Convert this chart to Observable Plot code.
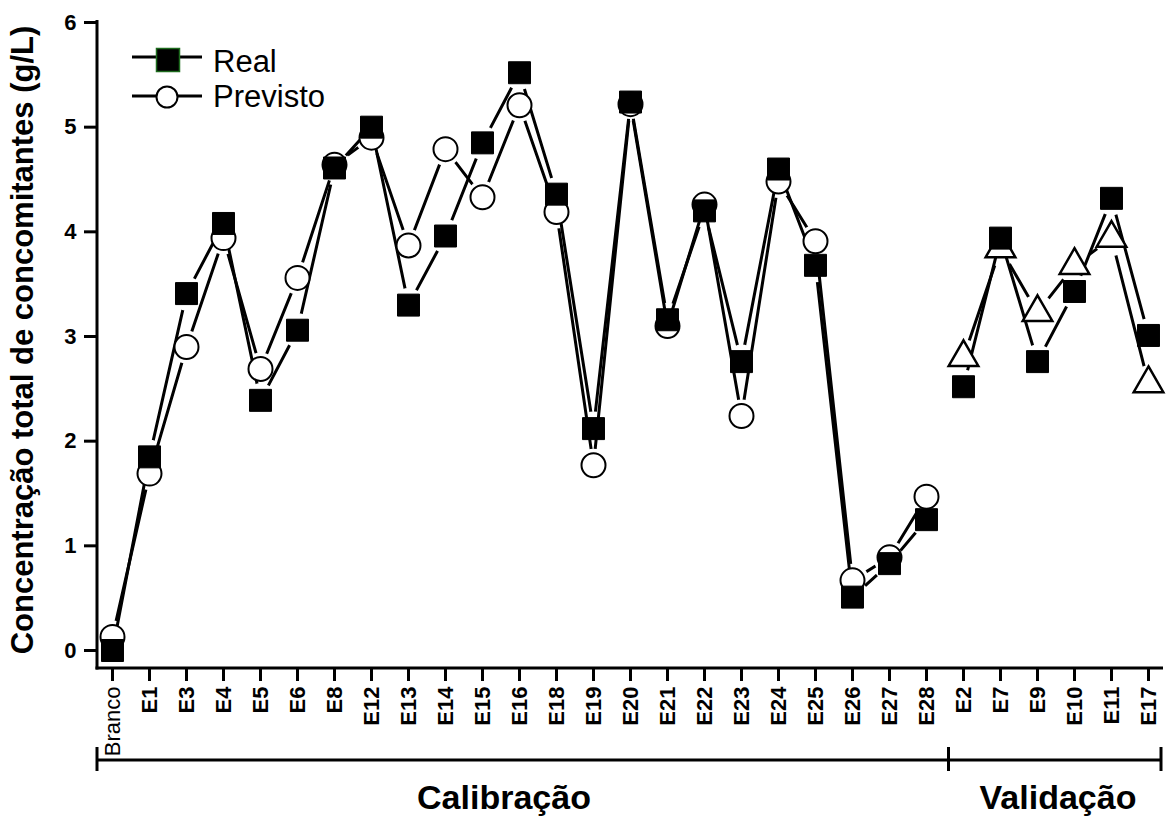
<!DOCTYPE html>
<html>
<head>
<meta charset="utf-8">
<script src="https://cdn.jsdelivr.net/npm/d3@7"></script>
<script src="https://cdn.jsdelivr.net/npm/@observablehq/plot@0.6"></script>
<style>
  html, body { margin: 0; padding: 0; background: #fff; }
  #chart svg { display: block; }
</style>
</head>
<body>
<div id="chart"></div>
<script>
// ---------- data ----------
const calCategories = ["Branco","E1","E3","E4","E5","E6","E8","E12","E13","E14","E15","E16","E18","E19","E20","E21","E22","E23","E24","E25","E26","E27","E28"];
const valCategories = ["E2","E7","E9","E10","E11","E17"];
const realCal = [0.00,1.85,3.41,4.08,2.39,3.06,4.61,5.00,3.30,3.96,4.85,5.52,4.36,2.12,5.24,3.16,4.20,2.76,4.60,3.68,0.51,0.83,1.25];
const prevCal = [0.13,1.69,2.90,3.94,2.69,3.56,4.64,4.90,3.87,4.79,4.33,5.21,4.19,1.77,5.22,3.10,4.26,2.24,4.48,3.91,0.67,0.89,1.47];
const realVal = [2.52,3.94,2.76,3.43,4.32,3.01];
const prevVal = [2.80,3.84,3.23,3.68,3.94,2.55];
const yTicks = [0,1,2,3,4,5,6];
const groupLabels = ["Calibração","Validação"];
const yTitle = "Concentração total de concomitantes (g/L)";
const legendLabels = ["Real","Previsto"];

// ---------- tables ----------
const cal = calCategories.map((c, i) => ({cat: c, real: realCal[i], prev: prevCal[i]}));
const val = valCategories.map((c, i) => ({cat: c, real: realVal[i], prev: prevVal[i]}));
const allCats = calCategories.concat(valCategories);

const W = 1168, H = 817;
const FONT = "'Liberation Sans', Arial, Helvetica, sans-serif";

const plot = Plot.plot({
  width: W,
  height: H,
  marginLeft: 97,
  marginRight: 5,
  marginTop: 22,
  marginBottom: 149,
  style: {fontFamily: FONT, background: "white", color: "black", overflow: "visible"},
  x: {type: "point", domain: allCats, padding: 0.405},
  y: {domain: [-0.172, 6]},
  marks: [
    Plot.axisX({tickRotate: -90, tickSize: 13, tickPadding: 5, fontSize: 22, fontWeight: "bold", strokeWidth: 3, label: null}),
    Plot.axisY(yTicks, {tickSize: 13, tickPadding: 8, fontSize: 22, fontWeight: "bold", strokeWidth: 3, label: null, tickFormat: d3.format("d")}),
    Plot.line(cal, {x: "cat", y: "real", stroke: "black", strokeWidth: 3}),
    Plot.line(cal, {x: "cat", y: "prev", stroke: "black", strokeWidth: 3}),
    Plot.line(val, {x: "cat", y: "real", stroke: "black", strokeWidth: 3}),
    Plot.line(val, {x: "cat", y: "prev", stroke: "black", strokeWidth: 3}),
    Plot.dot(cal, {x: "cat", y: "prev", symbol: "circle", r: 12, fill: "white", stroke: "black", strokeWidth: 2}),
    Plot.dot(val, {x: "cat", y: "prev", symbol: "triangle", r: 11, fill: "white", stroke: "black", strokeWidth: 2.5}),
    Plot.dot(cal, {x: "cat", y: "real", symbol: "square", r: 12.4, fill: "black", stroke: "black", strokeWidth: 1}),
    Plot.dot(val, {x: "cat", y: "real", symbol: "square", r: 12.4, fill: "black", stroke: "black", strokeWidth: 1})
  ]
});

document.getElementById("chart").appendChild(plot);

const svg = d3.select(plot);
const xs = plot.scale("x");
const ys = plot.scale("y");
const [x0, x1] = xs.range;
const [yb, yt] = ys.range;

// "Branco" tick label in regular weight
svg.selectAll("text").filter(function() { return this.textContent === "Branco"; })
  .attr("font-weight", "normal").style("font-weight", "normal");

// gaps in the lines around each symbol (Origin style) via masks
const lineGroups = svg.selectAll("g[aria-label='line']").nodes();
const defs = svg.insert("defs", ":first-child");
const seriesForLines = [
  {data: cal, key: "real", gap: 17},
  {data: cal, key: "prev", gap: 16.5},
  {data: val, key: "real", gap: 17},
  {data: val, key: "prev", gap: 18}
];
seriesForLines.forEach((s, i) => {
  const id = "gapmask" + i;
  const m = defs.append("mask").attr("id", id).attr("maskUnits", "userSpaceOnUse")
    .attr("x", 0).attr("y", 0).attr("width", W).attr("height", H);
  m.append("rect").attr("x", 0).attr("y", 0).attr("width", W).attr("height", H).attr("fill", "white");
  s.data.forEach(d => {
    m.append("circle").attr("cx", xs.apply(d.cat)).attr("cy", ys.apply(d[s.key])).attr("r", s.gap).attr("fill", "black");
  });
  if (lineGroups[i]) d3.select(lineGroups[i]).attr("mask", `url(#${id})`);
});

// axis lines (left and bottom)
const ax = svg.append("g").attr("stroke", "black").attr("stroke-width", 3).attr("fill", "none");
ax.append("line").attr("x1", x0).attr("x2", x0).attr("y1", yt - 2).attr("y2", yb + 1.5);
ax.append("line").attr("x1", x0 - 1.5).attr("x2", x1).attr("y1", yb).attr("y2", yb);

// group bracket below the axis
const divider = (xs.apply(calCategories[calCategories.length - 1]) + xs.apply(valCategories[0])) / 2 + 4;
const by = 760;
const br = svg.append("g").attr("stroke", "black").attr("stroke-width", 3).attr("fill", "none");
br.append("line").attr("x1", x0).attr("x2", x1 - 2).attr("y1", by).attr("y2", by);
[x0, divider, x1 - 2].forEach(xx => {
  br.append("line").attr("x1", xx).attr("x2", xx).attr("y1", by - 13).attr("y2", by + 11);
});
const gl = svg.append("g").attr("font-family", FONT).attr("font-weight", "bold").attr("font-size", 34)
  .attr("text-anchor", "middle").attr("fill", "black");
gl.append("text").attr("x", 504).attr("y", 809).text(groupLabels[0]);
gl.append("text").attr("x", 1058).attr("y", 809).text(groupLabels[1]);

// y axis title
svg.append("text")
  .attr("transform", "translate(33,340) rotate(-90)")
  .attr("text-anchor", "middle")
  .attr("font-family", FONT).attr("font-weight", "bold").attr("font-size", 31)
  .attr("fill", "black")
  .text(yTitle);

// legend
const lg = svg.append("g").attr("text-anchor", "start");
const rows = [{label: legendLabels[0], cy: 60, ly: 57, ty: 72}, {label: legendLabels[1], cy: 97, ly: 96, ty: 107}];
rows.forEach((r, i) => {
  lg.append("line").attr("x1", 132).attr("x2", 202).attr("y1", r.ly).attr("y2", r.ly)
    .attr("stroke", "black").attr("stroke-width", 3);
  if (i === 0) {
    lg.append("rect").attr("x", 168 - 11.5).attr("y", r.cy - 11.5).attr("width", 23).attr("height", 23)
      .attr("fill", "black").attr("stroke", "#1d6b1d").attr("stroke-width", 1.5);
  } else {
    lg.append("circle").attr("cx", 167).attr("cy", r.cy).attr("r", 10.5)
      .attr("fill", "white").attr("stroke", "black").attr("stroke-width", 2);
  }
  lg.append("text").attr("x", 213).attr("y", r.ty).attr("text-anchor", "start")
    .attr("font-family", FONT).attr("font-size", 31)
    .attr("fill", "black").text(r.label);
});
</script>
</body>
</html>
